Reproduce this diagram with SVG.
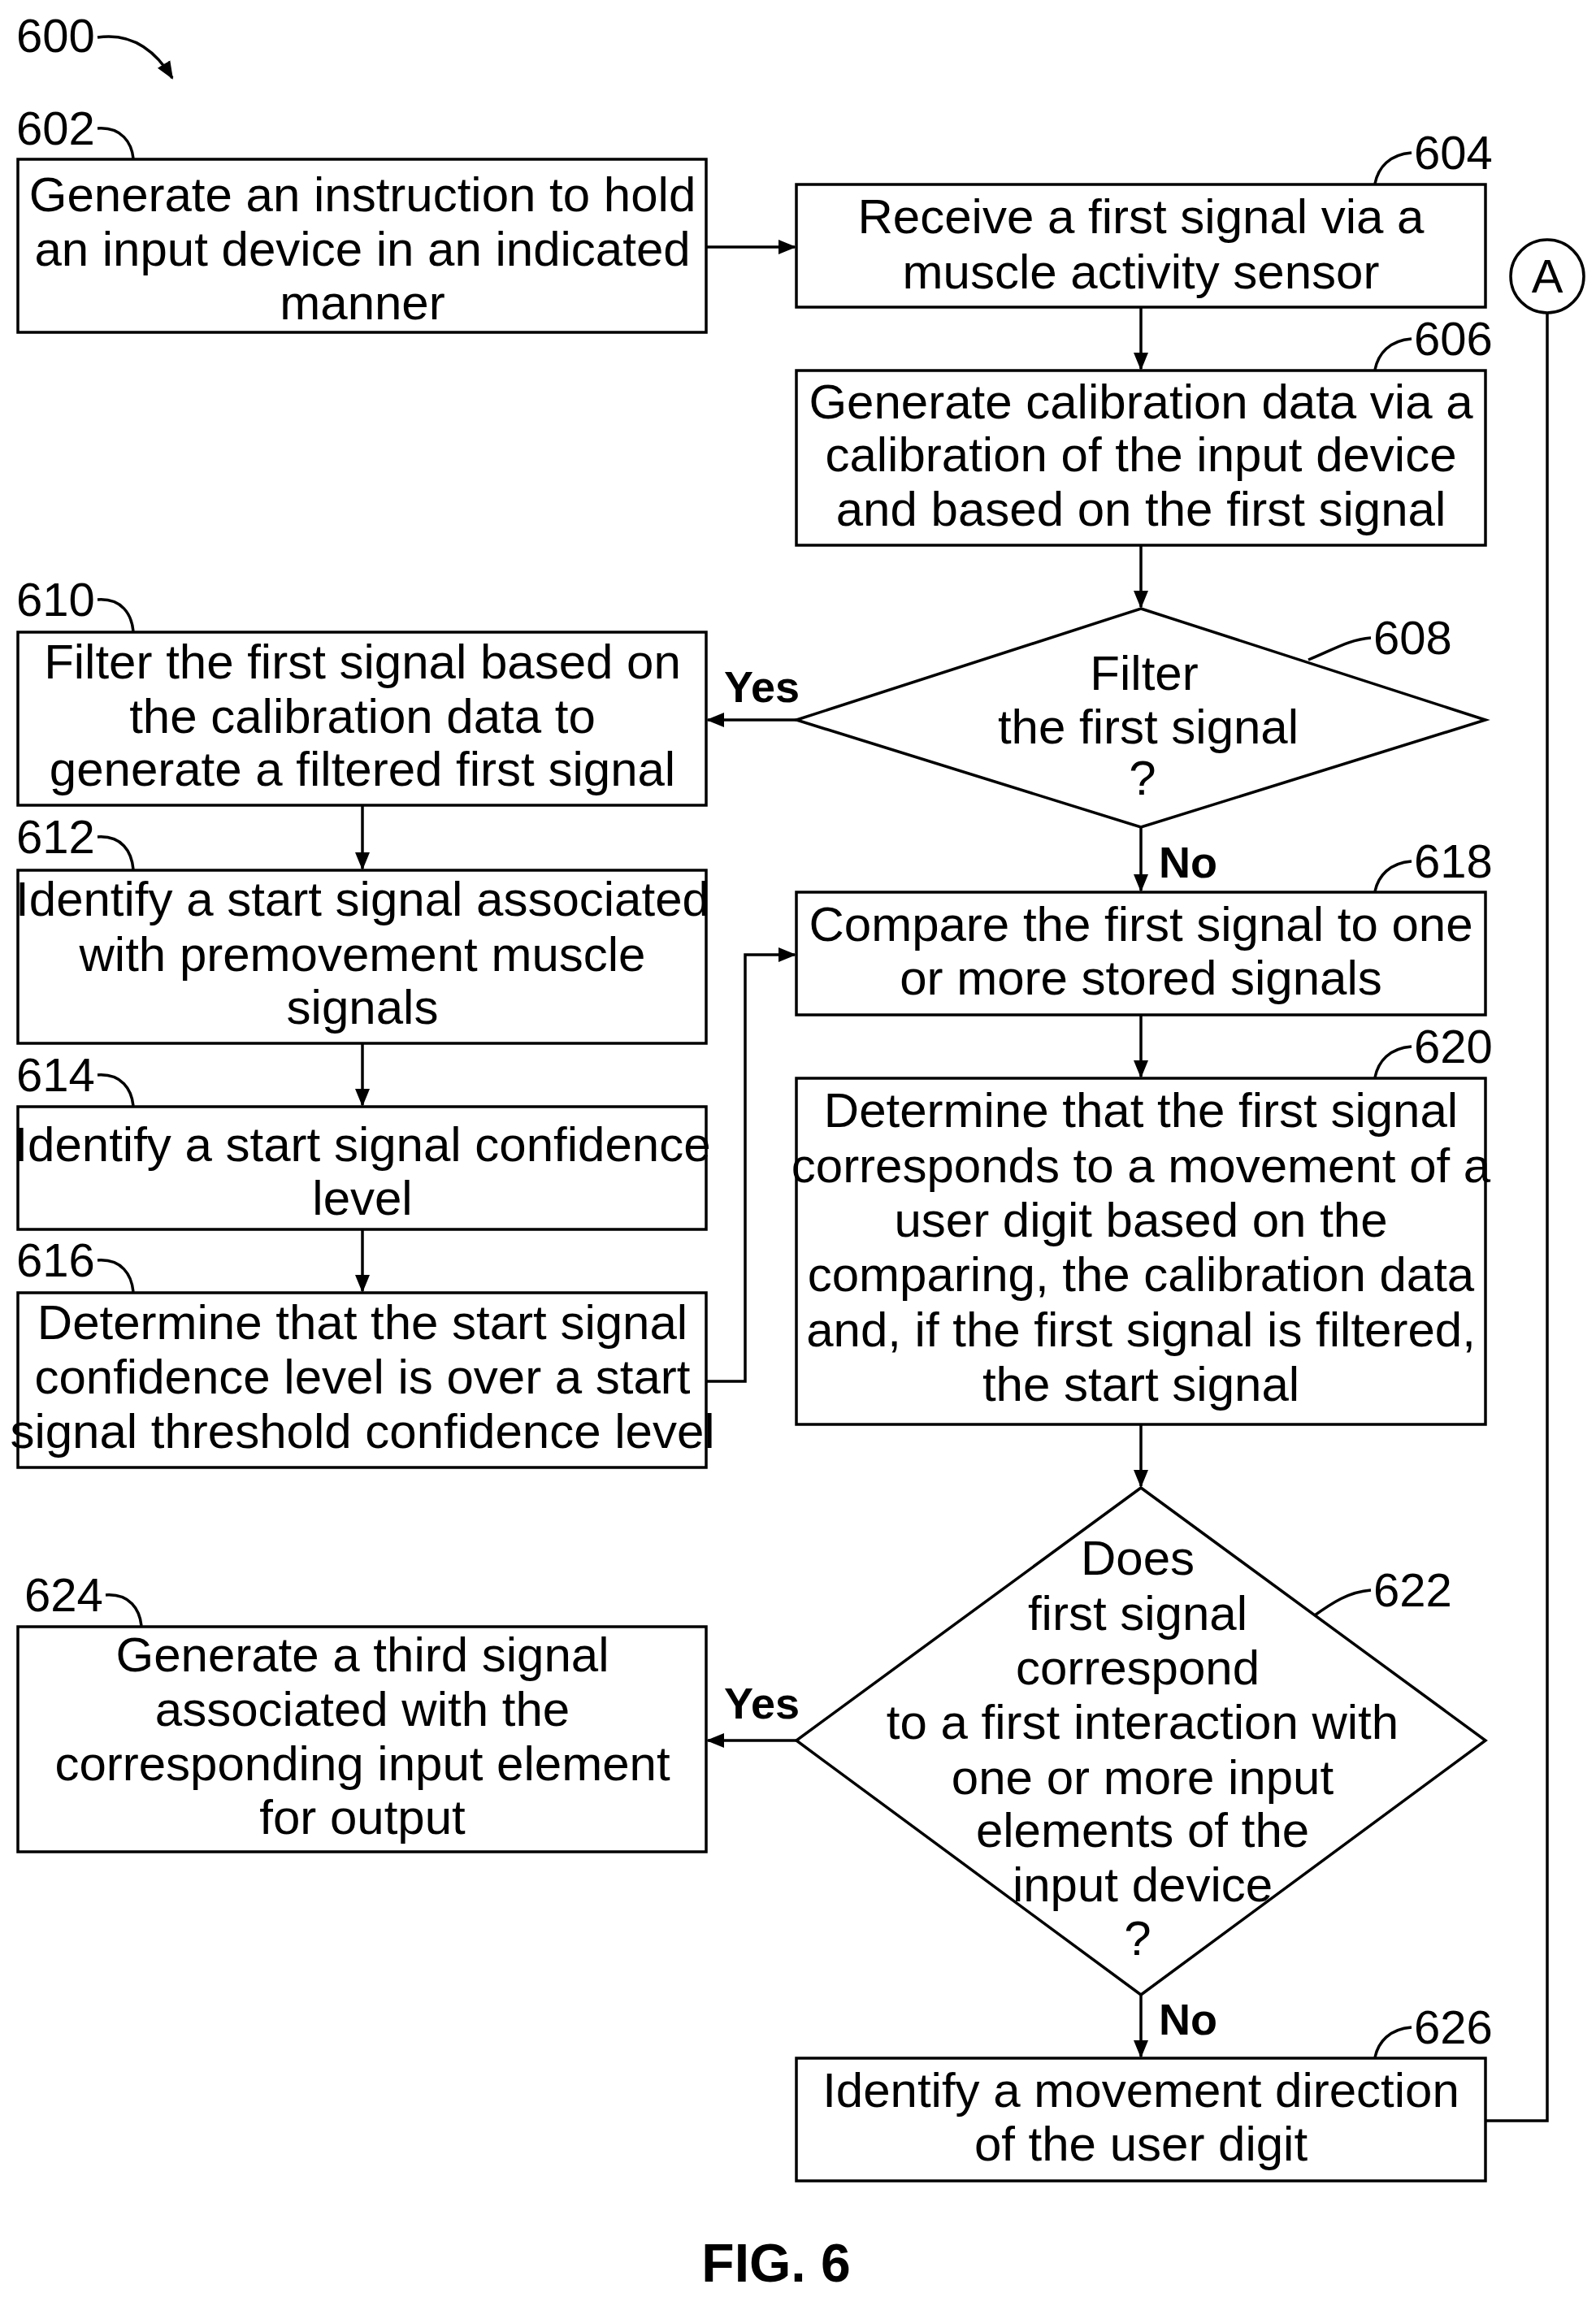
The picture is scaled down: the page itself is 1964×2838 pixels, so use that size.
<svg xmlns="http://www.w3.org/2000/svg" width="1964" height="2838" viewBox="0 0 1964 2838">
<style>
.b{fill:#fff;stroke:#000;stroke-width:3.5}
.t{font-family:"Liberation Sans Narrow","Liberation Sans",Arial,sans-serif;font-size:60px;text-anchor:middle;fill:#000}
.n{font-family:"Liberation Sans Narrow","Liberation Sans",Arial,sans-serif;font-size:58px;fill:#000}
.y{font-family:"Liberation Sans","Arial",sans-serif;font-size:54px;font-weight:bold;fill:#000}
.c{fill:none;stroke:#000;stroke-width:3.5}
</style>
<defs><marker id="a" markerWidth="10" markerHeight="10" refX="9" refY="5" orient="auto" markerUnits="userSpaceOnUse" viewBox="0 0 10 10"><path d="M0,0 L10,5 L0,10 z"/></marker>
<marker id="a2" markerWidth="22" markerHeight="22" refX="20" refY="11" orient="auto" markerUnits="userSpaceOnUse"><path d="M0,2 L22,11 L0,20 z"/></marker></defs>
<g id="labels">
<text class="n" x="20" y="64">600</text>
<path class="c" d="M120,46 C160,40 190,60 212,96" marker-end="url(#a2)"/>
<text class="n" x="20" y="178">602</text><path class="c" d="M120,158 C150,156 162,176 164,195"/>
<text class="n" x="1740" y="208">604</text><path class="c" d="M1737,188 C1710,190 1696,206 1692,226"/>
<text class="n" x="1740" y="437">606</text><path class="c" d="M1737,417 C1710,419 1696,435 1692,455"/>
<text class="n" x="1690" y="805">608</text><path class="c" d="M1687,785 C1660,787 1640,800 1610,812"/>
<text class="n" x="20" y="758">610</text><path class="c" d="M120,738 C150,736 162,756 164,777"/>
<text class="n" x="20" y="1050">612</text><path class="c" d="M120,1030 C150,1028 162,1048 164,1070"/>
<text class="n" x="20" y="1343">614</text><path class="c" d="M120,1323 C150,1321 162,1341 164,1361"/>
<text class="n" x="20" y="1571">616</text><path class="c" d="M120,1551 C150,1549 162,1569 164,1590"/>
<text class="n" x="1740" y="1080">618</text><path class="c" d="M1737,1060 C1710,1062 1696,1078 1692,1097"/>
<text class="n" x="1740" y="1308">620</text><path class="c" d="M1737,1288 C1710,1290 1696,1306 1692,1326"/>
<text class="n" x="1690" y="1977">622</text><path class="c" d="M1687,1957 C1660,1959 1640,1972 1615,1990"/>
<text class="n" x="30" y="1983">624</text><path class="c" d="M130,1963 C160,1961 172,1981 174,2001"/>
<text class="n" x="1740" y="2515">626</text><path class="c" d="M1737,2495 C1710,2497 1696,2513 1692,2532"/>
</g>
<g id="n602"><rect class="b" x="22" y="196" width="847" height="213"/><text class="t" x="446" y="260">Generate an instruction to hold</text><text class="t" x="446" y="327">an input device in an indicated</text><text class="t" x="446" y="393">manner</text></g>
<g id="n604"><rect class="b" x="980" y="227" width="848" height="151"/><text class="t" x="1404" y="287">Receive a first signal via a</text><text class="t" x="1404" y="355">muscle activity sensor</text></g>
<g id="n606"><rect class="b" x="980" y="456" width="848" height="215"/><text class="t" x="1404" y="515">Generate calibration data via a</text><text class="t" x="1404" y="580">calibration of the input device</text><text class="t" x="1404" y="647">and based on the first signal</text></g>
<g id="n608"><polygon class="b" points="1404,749 1828,886 1404,1018 980,886"/><text class="t" x="1408" y="849">Filter</text><text class="t" x="1413" y="915">the first signal</text><text class="t" x="1406" y="978">?</text></g>
<g id="n610"><rect class="b" x="22" y="778" width="847" height="213"/><text class="t" x="446" y="835">Filter the first signal based on</text><text class="t" x="446" y="902">the calibration data to</text><text class="t" x="446" y="967">generate a filtered first signal</text></g>
<g id="n612"><rect class="b" x="22" y="1071" width="847" height="213"/><text class="t" x="446" y="1127">Identify a start signal associated</text><text class="t" x="446" y="1195">with premovement muscle</text><text class="t" x="446" y="1260">signals</text></g>
<g id="n614"><rect class="b" x="22" y="1362" width="847" height="151"/><text class="t" x="446" y="1429">Identify a start signal confidence</text><text class="t" x="446" y="1495">level</text></g>
<g id="n616"><rect class="b" x="22" y="1591" width="847" height="215"/><text class="t" x="446" y="1648">Determine that the start signal</text><text class="t" x="446" y="1715">confidence level is over a start</text><text class="t" x="446" y="1782">signal threshold confidence level</text></g>
<g id="n618"><rect class="b" x="980" y="1098" width="848" height="151"/><text class="t" x="1404" y="1158">Compare the first signal to one</text><text class="t" x="1404" y="1224">or more stored signals</text></g>
<g id="n620"><rect class="b" x="980" y="1327" width="848" height="426"/><text class="t" x="1404" y="1387">Determine that the first signal</text><text class="t" x="1404" y="1455">corresponds to a movement of a</text><text class="t" x="1404" y="1522">user digit based on the</text><text class="t" x="1404" y="1589">comparing, the calibration data</text><text class="t" x="1404" y="1657">and, if the first signal is filtered,</text><text class="t" x="1404" y="1724">the start signal</text></g>
<g id="n622"><polygon class="b" points="1404,1831 1828,2142 1404,2455 980,2142"/><text class="t" x="1400" y="1938">Does</text><text class="t" x="1400" y="2006">first signal</text><text class="t" x="1400" y="2073">correspond</text><text class="t" x="1406" y="2140">to a first interaction with</text><text class="t" x="1406" y="2208">one or more input</text><text class="t" x="1406" y="2273">elements of the</text><text class="t" x="1406" y="2340">input device</text><text class="t" x="1400" y="2406">?</text></g>
<g id="n624"><rect class="b" x="22" y="2002" width="847" height="277"/><text class="t" x="446" y="2057">Generate a third signal</text><text class="t" x="446" y="2124">associated with the</text><text class="t" x="446" y="2191">corresponding input element</text><text class="t" x="446" y="2257">for output</text></g>
<g id="n626"><rect class="b" x="980" y="2533" width="848" height="151"/><text class="t" x="1404" y="2593">Identify a movement direction</text><text class="t" x="1404" y="2659">of the user digit</text></g>
<g id="nA"><circle class="b" cx="1904" cy="340" r="45"/><text class="n" x="1904" y="360" text-anchor="middle" font-size="50">A</text></g>
<g id="connectors">
<path class="c" d="M869,304 H978" marker-end="url(#a2)"/>
<path class="c" d="M1404,378 V454" marker-end="url(#a2)"/>
<path class="c" d="M1404,671 V747" marker-end="url(#a2)"/>
<path class="c" d="M980,886 H871" marker-end="url(#a2)"/>
<path class="c" d="M1404,1018 V1096" marker-end="url(#a2)"/>
<path class="c" d="M446,991 V1069" marker-end="url(#a2)"/>
<path class="c" d="M446,1284 V1360" marker-end="url(#a2)"/>
<path class="c" d="M446,1513 V1589" marker-end="url(#a2)"/>
<path class="c" d="M869,1700 H917 V1175 H978" marker-end="url(#a2)"/>
<path class="c" d="M1404,1249 V1325" marker-end="url(#a2)"/>
<path class="c" d="M1404,1753 V1829" marker-end="url(#a2)"/>
<path class="c" d="M980,2142 H871" marker-end="url(#a2)"/>
<path class="c" d="M1404,2455 V2531" marker-end="url(#a2)"/>
<path class="c" d="M1828,2610 H1904 V385"/>
<text class="y" x="891" y="864">Yes</text>
<text class="y" x="1426" y="1080">No</text>
<text class="y" x="891" y="2115">Yes</text>
<text class="y" x="1426" y="2504">No</text>
</g>
<text x="955" y="2808" font-family="Liberation Sans Narrow,Liberation Sans,sans-serif" font-weight="bold" font-size="66" text-anchor="middle">FIG. 6</text>
</svg>
